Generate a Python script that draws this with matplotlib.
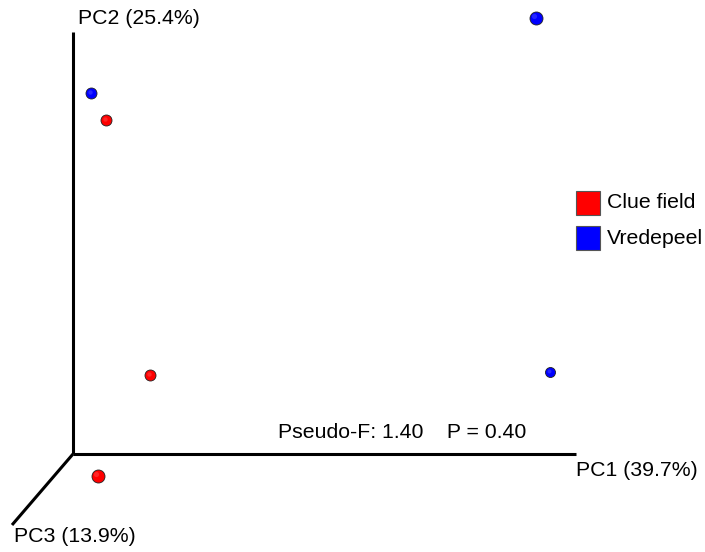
import numpy as np
import matplotlib.pyplot as plt

plt.rcParams['font.family'] = ['Liberation Sans', 'DejaVu Sans']

# projected sample positions (screen space of the 3D PCoA view)
groups = ["Clue field", "Vredepeel"]
colors = ["#ff0000", "#0000ff"]
clue_x = [106, 150, 98]
clue_y = [120, 375, 476]
clue_size = [5.5, 5.5, 6.5]
vrede_x = [91, 536, 550]
vrede_y = [93, 18, 372]
vrede_size = [5.5, 6.5, 5.0]

axis_labels = ["PC1 (39.7%)", "PC2 (25.4%)", "PC3 (13.9%)"]
stats_text = "Pseudo-F: 1.40    P = 0.40"

W, H = 705, 552
fig = plt.figure(figsize=(W / 100, H / 100), dpi=100)
ax = fig.add_axes([0, 0, 1, 1])
ax.set_xlim(0, W)
ax.set_ylim(H, 0)
ax.axis("off")

# axes of the 3D view
origin = (73, 454)
ax.plot([origin[0], 576], [origin[1], origin[1]], color="black", lw=2.2, solid_capstyle="butt")
ax.plot([origin[0], origin[0]], [origin[1], 32], color="black", lw=2.2, solid_capstyle="butt")
ax.plot([origin[0], 12], [origin[1], 525], color="black", lw=2.2, solid_capstyle="butt")

fs = 15.3
ax.text(576, 471, axis_labels[0], fontsize=fs, va="center", ha="left")
ax.text(78, 18, axis_labels[1], fontsize=fs, va="center", ha="left")
ax.text(14, 537, axis_labels[2], fontsize=fs, va="center", ha="left")
ax.text(278, 432, stats_text, fontsize=fs, va="center", ha="left")

def spheres(xs, ys, rs, c):
    for x, y, r in zip(xs, ys, rs):
        ax.scatter([x], [y], s=(2 * r * 0.72) ** 2, color=c, edgecolors="#202020",
                   linewidths=0.6, zorder=3)
        ax.scatter([x - r * 0.25], [y - r * 0.25], s=(r * 0.8 * 0.72) ** 2,
                   color="white", alpha=0.15, linewidths=0, zorder=4)

spheres(clue_x, clue_y, clue_size, colors[0])
spheres(vrede_x, vrede_y, vrede_size, colors[1])

# legend
for i, (g, c) in enumerate(zip(groups, colors)):
    y0 = 191 + i * 35
    ax.add_patch(plt.Rectangle((576, y0), 24, 24, facecolor=c, edgecolor="#555555", lw=0.8))
    ax.text(607, y0 + 12, g, fontsize=fs, va="center", ha="left")

fig.savefig("out.png", dpi=100)
